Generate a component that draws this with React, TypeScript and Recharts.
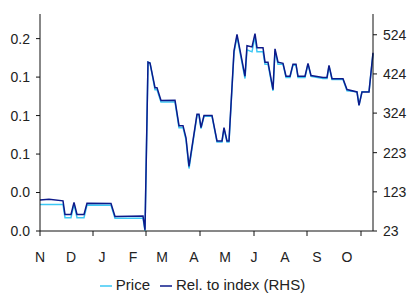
import React from "react";
import { LineChart, Line, XAxis, YAxis, Legend } from "recharts";

// days since 1 Nov
const days = [
  0, 9, 23, 25, 31, 34, 37, 44, 47, 71, 75, 103, 105, 108, 110, 115, 117, 121,
  135, 139, 143, 146, 149, 157, 159, 161, 164, 172, 177, 182, 184, 187, 189,
  194, 197, 205, 207, 212, 215, 217, 223, 225, 228, 233, 235, 238, 243, 246,
  250, 253, 256, 258, 265, 268, 271, 283, 287, 289, 292, 303, 307, 317, 319,
  322, 329, 333,
];

const price = [
  0.0207, 0.0207, 0.0207, 0.0104, 0.0104, 0.0212, 0.0104, 0.0104, 0.0203,
  0.02, 0.01, 0.01, 0.0, 0.1317, 0.1309, 0.1101, 0.1101, 0.1005, 0.1005,
  0.0806, 0.0806, 0.071, 0.0487, 0.0902, 0.0902, 0.0798, 0.0894, 0.0894,
  0.0694, 0.0694, 0.0798, 0.0694, 0.0694, 0.1389, 0.1516, 0.1189, 0.1412,
  0.1397, 0.1516, 0.1397, 0.1397, 0.1301, 0.1301, 0.1093, 0.1404, 0.1301,
  0.1301, 0.1197, 0.1197, 0.1293, 0.1293, 0.1197, 0.1197, 0.1301, 0.1205,
  0.1189, 0.1189, 0.1285, 0.1181, 0.1181, 0.1093, 0.1085, 0.0982, 0.1085,
  0.1085, 0.1381,
];

const rel = [
  102, 104, 100, 65, 65, 96, 65, 65, 94, 93, 60, 61, 26, 454, 452, 389, 389,
  356, 357, 292, 292, 261, 188, 321, 321, 287, 318, 318, 253, 253, 287, 253,
  253, 483, 525, 418, 496, 493, 527, 491, 491, 454, 454, 384, 488, 454, 451,
  418, 418, 449, 449, 418, 418, 451, 420, 415, 415, 446, 412, 412, 384, 378,
  344, 378, 378, 478,
];

const monthTicks = [0, 31, 62, 93, 122, 154, 185, 214, 245, 277, 307];
const monthLabels = ["N", "D", "J", "F", "M", "A", "M", "J", "A", "S", "O"];
const xMarks = [0, 53, 106, 160, 214, 267, 321];

const leftTicks = [0, 0.03, 0.06, 0.09, 0.12, 0.15];
const rightTicks = [23, 123, 223, 324, 424, 524];

const data = days.map((d, i) => ({ day: d, price: price[i], rel: rel[i] }));

const FONT = "'Liberation Sans', Arial, sans-serif";
const tickStyle = { fontSize: 14, fill: "#222", fontFamily: FONT };

export default function App() {
  return (
    <div style={{ fontFamily: FONT }}>
      <style>{"body{margin:0;overflow:hidden}"}</style>
      <LineChart
        width={407}
        height={293}
        data={data}
        margin={{ top: 14, right: 0, left: 8, bottom: 43 }}
      >
        <XAxis
          dataKey="day"
          type="number"
          domain={[0, 333]}
          ticks={xMarks}
          tickFormatter={() => ""}
          height={1}
          tickSize={5}
          stroke="#111"
        />
        <XAxis
          xAxisId="months"
          dataKey="day"
          type="number"
          domain={[0, 333]}
          ticks={monthTicks}
          tickFormatter={(v) => monthLabels[monthTicks.indexOf(v)]}
          height={1}
          axisLine={false}
          tickLine={false}
          tickSize={0}
          tickMargin={20}
          tick={tickStyle}
          interval={0}
        />
        <YAxis
          yAxisId="l"
          width={32}
          domain={[0, 0.1692]}
          ticks={leftTicks}
          tickFormatter={(v) => (Math.round(v * 10) / 10).toFixed(1)}
          tickSize={4}
          tickMargin={6}
          tick={tickStyle}
          stroke="#111"
          interval={0}
        />
        <YAxis
          yAxisId="r"
          orientation="right"
          width={34}
          domain={[23, 577]}
          ticks={rightTicks}
          tickSize={4}
          tickMargin={6}
          tick={tickStyle}
          stroke="#111"
          interval={0}
        />
        <Line
          yAxisId="l"
          dataKey="price"
          name="Price"
          type="linear"
          stroke="#3cc8f4"
          strokeWidth={1.5}
          dot={false}
          legendType="plainline"
          isAnimationActive={false}
        />
        <Line
          yAxisId="r"
          dataKey="rel"
          name="Rel. to index (RHS)"
          type="linear"
          stroke="#0d1a8a"
          strokeWidth={1.5}
          dot={false}
          legendType="plainline"
          isAnimationActive={false}
        />
        <Legend
          iconSize={12}
          wrapperStyle={{ bottom: 0, fontSize: 15, fontFamily: FONT }}
          formatter={(v) => <span style={{ color: "#222" }}>{v}</span>}
        />
      </LineChart>
    </div>
  );
}
